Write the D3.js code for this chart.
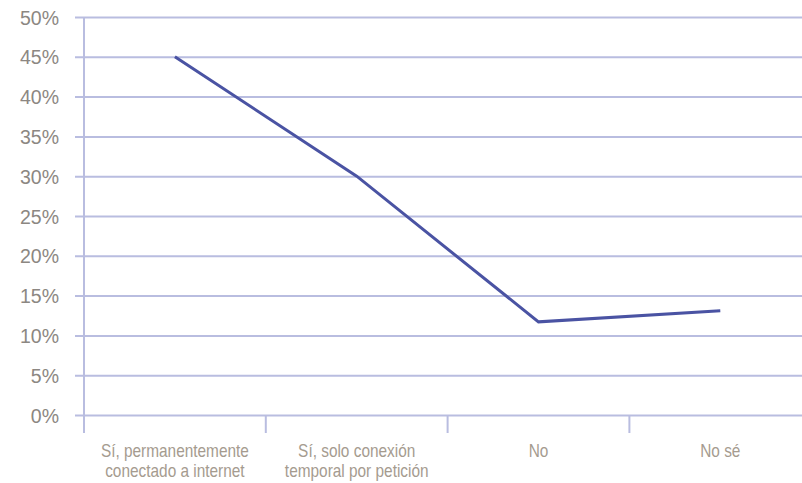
<!DOCTYPE html>
<html>
<head>
<meta charset="utf-8">
<script src="https://cdn.jsdelivr.net/npm/d3@7"></script>
<style>
  html, body { margin: 0; padding: 0; background: #ffffff; }
  svg { display: block; }
</style>
</head>
<body>
<svg id="chart" width="802" height="483"></svg>
<script>
// Survey answers and share of respondents
const categories = [
  ["Sí, permanentemente", "conectado a internet"],
  ["Sí, solo conexión", "temporal por petición"],
  ["No"],
  ["No sé"]
];
const shares = [45, 30, 11.7, 13.1];
const yTicks = [0, 5, 10, 15, 20, 25, 30, 35, 40, 45, 50];

const svg = d3.select("#chart");
const W = 802, H = 483;
const left = 84, bandW = 181.8;
const plotTop = 17, plotBottom = 415;

const gridColor = "#b9bde0";
const labelColor = "#8c8782";
const catColor = "#a59b8f";
const lineColor = "#4a53a3";
const font = "'Liberation Sans', Arial, sans-serif";

const x = d3.scaleBand()
  .domain(d3.range(categories.length))
  .range([left, left + bandW * categories.length])
  .padding(0);

const y = d3.scaleLinear().domain([0, 50]).range([plotBottom, plotTop]);

// Horizontal gridlines with short ticks left of the axis
const yAxis = d3.axisLeft(y)
  .tickValues(yTicks)
  .tickSize(-(W - left))
  .tickPadding(25)
  .tickFormat(d => d + "%");

const gy = svg.append("g")
  .attr("transform", `translate(${left},0)`)
  .call(yAxis);
gy.select(".domain").remove();
gy.selectAll(".tick line")
  .attr("x1", -9)
  .attr("stroke", gridColor)
  .attr("stroke-width", 2);
gy.selectAll(".tick text")
  .attr("fill", labelColor)
  .attr("font-family", font)
  .attr("font-size", 19.5)
  .attr("dy", "0.36em");

// Vertical axis line
svg.append("line")
  .attr("x1", left).attr("x2", left)
  .attr("y1", plotTop).attr("y2", plotBottom + 18)
  .attr("stroke", gridColor)
  .attr("stroke-width", 2);

// Category separators below the baseline
svg.append("g")
  .selectAll("line")
  .data(d3.range(1, categories.length))
  .join("line")
  .attr("x1", i => x(i)).attr("x2", i => x(i))
  .attr("y1", plotBottom).attr("y2", plotBottom + 18)
  .attr("stroke", gridColor)
  .attr("stroke-width", 2);

// Category labels, set in a narrowed face
const cx = i => x(i) + x.bandwidth() / 2;
svg.append("g")
  .selectAll("text")
  .data(categories)
  .join("text")
  .attr("transform", (d, i) => `translate(${cx(i)},457) scale(0.88,1)`)
  .attr("text-anchor", "middle")
  .attr("fill", catColor)
  .attr("font-family", font)
  .attr("font-size", 17.5)
  .selectAll("tspan")
  .data(d => d)
  .join("tspan")
  .attr("x", 0)
  .attr("dy", (d, j) => j === 0 ? 0 : 20.5)
  .text(d => d);

// Data line
const line = d3.line()
  .x((d, i) => cx(i))
  .y(d => y(d));

svg.append("path")
  .datum(shares)
  .attr("d", line)
  .attr("fill", "none")
  .attr("stroke", lineColor)
  .attr("stroke-width", 3)
  .attr("stroke-linejoin", "miter");
</script>
</body>
</html>
